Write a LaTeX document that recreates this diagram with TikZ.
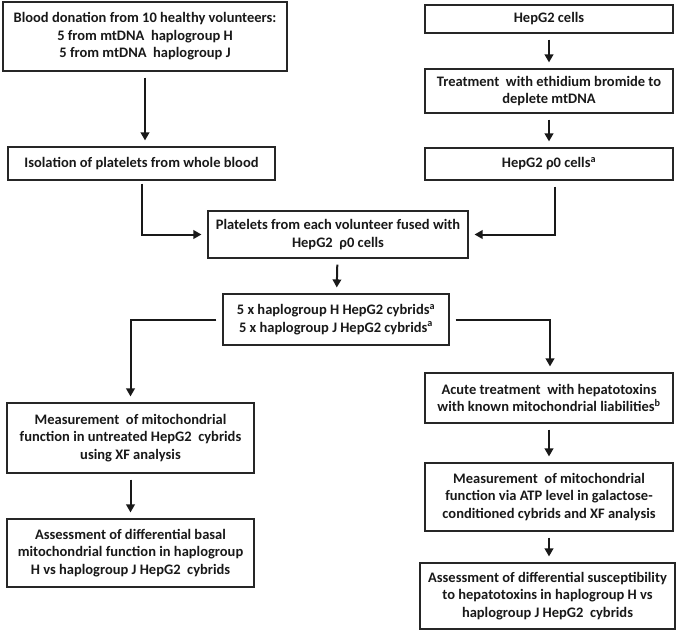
\documentclass[tikz,border=0pt]{standalone}
\usepackage{fontspec}
\setmainfont{Carlito}
\usetikzlibrary{arrows.meta}
\begin{document}
\begin{tikzpicture}[x=1pt,y=-1pt,
  box/.style={draw=black!85,line width=1.1pt,align=center,inner sep=0pt,
    font=\fontsize{14.5}{17.5}\selectfont\bfseries,text=black!90},
  arr/.style={line width=2pt,draw=black!90,-{Triangle[length=8pt,width=8.5pt]},
    shorten <=6pt,shorten >=6pt}]
\useasboundingbox[fill=white] (0,0) rectangle (684,631);
\node[box,minimum width=284pt,minimum height=69pt] (b1) at (145,36.5)
  {Blood donation from 10 healthy volunteers:\\5 from mtDNA\ \ haplogroup H\\5 from mtDNA\ \ haplogroup J};
\node[box,minimum width=267pt,minimum height=33pt] (b2) at (141.5,163.5)
  {Isolation of platelets from whole blood};
\node[box,minimum width=248pt,minimum height=28pt] (r1) at (549,19)
  {HepG2 cells};
\node[box,minimum width=248pt,minimum height=44pt] (r2) at (549,91)
  {Treatment\ \ with ethidium bromide to\\deplete mtDNA};
\node[box,minimum width=248pt,minimum height=32pt] (r3) at (549,164)
  {HepG2 ρ0 cells\textsuperscript{a}};
\node[box,minimum width=260pt,minimum height=47pt] (fuse) at (338,234.5)
  {Platelets from each volunteer fused with\\HepG2\ \ ρ0 cells};
\node[box,minimum width=226pt,minimum height=51pt] (cyb) at (336,319.5)
  {5 x haplogroup H HepG2 cybrids\textsuperscript{a}\\5 x haplogroup J HepG2 cybrids\textsuperscript{a}};
\node[box,minimum width=247pt,minimum height=70pt] (lm) at (130.5,438)
  {Measurement\ \ of mitochondrial\\function in untreated\ HepG2\ \ cybrids\\using XF analysis};
\node[box,minimum width=247pt,minimum height=68pt] (la) at (130.5,553)
  {Assessment of differential basal\\mitochondrial function in haplogroup\\H vs haplogroup J HepG2\ \ cybrids};
\node[box,minimum width=248pt,minimum height=50pt] (ra1) at (549,398)
  {Acute treatment\ \ with hepatotoxins\\with known mitochondrial liabilities\textsuperscript{b}};
\node[box,minimum width=248pt,minimum height=68pt] (ra2) at (549,497)
  {Measurement\ \ of mitochondrial\\function via ATP level\ in galactose-\\conditioned cybrids and XF analysis};
\node[box,minimum width=255pt,minimum height=66pt] (ra3) at (547.5,596)
  {Assessment of differential susceptibility\\to hepatotoxins in haplogroup H vs\\haplogroup J HepG2\ \ cybrids};
\draw[arr] (b1.south) -- (b1.south |- b2.north);
\draw[arr] (r1) -- (r2);
\draw[arr] (r2) -- (r3);
\draw[arr,shorten <=3pt] (b2.south) |- (fuse.west);
\draw[arr] ([xshift=6pt]r3.south) |- (fuse.east);
\draw[arr] (fuse) -- (cyb);
\draw[arr] (cyb.west) -| (lm.north);
\draw[arr] (cyb.east) -| ([xshift=1pt]ra1.north);
\draw[arr] (lm) -- (la);
\draw[arr] (ra1) -- (ra2);
\draw[arr] (ra2.south) -- (ra2.south |- ra3.north);
\end{tikzpicture}
\end{document}
